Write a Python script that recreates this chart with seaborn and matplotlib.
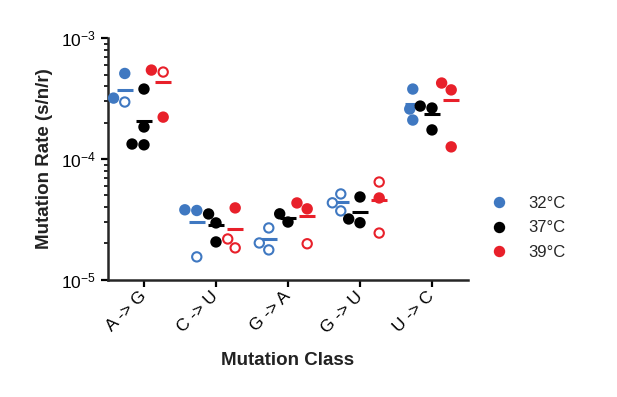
import numpy as np
import pandas as pd
import seaborn as sns
import matplotlib.pyplot as plt
from matplotlib.lines import Line2D

classes = ["A -> G", "C -> U", "G -> A", "G -> U", "U -> C"]
temps = ["32°C", "37°C", "39°C"]
colors = ["#3F78C1", "#000000", "#E8202A"]

# one entry per measured point
mut_class = (["A -> G"] * 10 + ["C -> U"] * 9 + ["G -> A"] * 8
             + ["G -> U"] * 9 + ["U -> C"] * 9)
temp = (["32°C"] * 3 + ["37°C"] * 4 + ["39°C"] * 3
        + ["32°C"] * 3 + ["37°C"] * 3 + ["39°C"] * 3
        + ["32°C"] * 3 + ["37°C"] * 2 + ["39°C"] * 3
        + ["32°C"] * 3 + ["37°C"] * 3 + ["39°C"] * 3
        + ["32°C"] * 3 + ["37°C"] * 3 + ["39°C"] * 3)
rate = [5.1e-4, 2.96e-4, 3.19e-4, 3.79e-4, 1.84e-4, 1.31e-4, 1.33e-4, 5.44e-4, 5.24e-4, 2.22e-4,
        3.8e-5, 3.75e-5, 1.55e-5, 3.51e-5, 2.96e-5, 2.06e-5, 3.94e-5, 2.18e-5, 1.84e-5,
        2.69e-5, 2.02e-5, 1.77e-5, 3.52e-5, 3.01e-5, 4.33e-5, 3.87e-5, 1.99e-5,
        5.14e-5, 4.34e-5, 3.72e-5, 4.85e-5, 2.97e-5, 3.19e-5, 6.45e-5, 4.76e-5, 2.44e-5,
        3.79e-4, 2.59e-4, 2.10e-4, 2.74e-4, 2.64e-4, 1.74e-4, 4.25e-4, 3.73e-4, 1.26e-4]
hollow = [0, 1, 0, 0, 0, 0, 0, 0, 1, 0,
          0, 0, 1, 0, 0, 0, 0, 1, 1,
          1, 1, 1, 0, 0, 0, 0, 1,
          1, 1, 1, 0, 0, 0, 1, 0, 1,
          0, 0, 0, 0, 0, 0, 0, 0, 0]

df = pd.DataFrame({"cls": mut_class, "temp": temp, "rate": rate, "hollow": hollow})
means = df.groupby(["cls", "temp"], sort=False)["rate"].mean().reset_index()

sns.set_style("ticks")
plt.rcParams["font.family"] = ["Liberation Sans", "DejaVu Sans"]
plt.rcParams["mathtext.fontset"] = "custom"
plt.rcParams["mathtext.rm"] = "Liberation Sans"
plt.rcParams["axes.linewidth"] = 1.8

fig, ax = plt.subplots(figsize=(6.17, 3.97), dpi=100)
fig.subplots_adjust(left=0.175, right=0.7585, top=0.904, bottom=0.295)
ax.set_yscale("log")

sns.swarmplot(data=df, x="cls", y="rate", hue="temp", order=classes, hue_order=temps,
              palette=colors, dodge=True, size=6.7, linewidth=1.5, ax=ax)

# open circles for the hollow points
hollow_of = {round(r, 12): h for r, h in zip(rate, hollow)}
for coll in ax.collections:
    offs = coll.get_offsets()
    if len(offs) == 0:
        continue
    fc = coll.get_facecolors()
    if len(fc) == 1:
        fc = np.repeat(fc, len(offs), axis=0)
    new_fc = fc.copy()
    for i, y in enumerate(np.asarray(offs)[:, 1]):
        if hollow_of.get(round(float(y), 12), 0):
            new_fc[i] = (1, 1, 1, 1)
    coll.set_facecolors(new_fc)
    coll.set_edgecolors(fc)

sns.pointplot(data=means, x="cls", y="rate", hue="temp", order=classes, hue_order=temps,
              palette=colors, dodge=0.533, markers="_", linestyles="none", errorbar=None,
              markersize=12, markeredgewidth=2.2, legend=False, ax=ax)

ax.set_xlim(-0.5, 4.5)
ax.set_ylim(1e-5, 1e-3)
sns.despine(ax=ax)
ax.tick_params(axis="both", which="major", length=5, width=1.6, labelsize=12.5, colors="black")
ax.tick_params(axis="x", which="major", pad=5)
ax.tick_params(axis="y", which="minor", length=3, width=1.4)
plt.setp(ax.get_xticklabels(), rotation=45, ha="right", va="center", rotation_mode="anchor")
ax.set_xlabel("Mutation Class", fontsize=13.5, fontweight="bold", color="#222222", labelpad=12)
ax.set_ylabel("Mutation Rate (s/n/r)", fontsize=13.5, fontweight="bold", color="#222222", labelpad=6)

leg = ax.legend(loc="center left", bbox_to_anchor=(1.02, 0.215), frameon=False,
                fontsize=12, handlelength=1, handletextpad=1.3, labelspacing=0.55)
for h in leg.legend_handles:
    if isinstance(h, Line2D):
        h.set_markeredgecolor(h.get_markerfacecolor())
    else:
        h.set_edgecolor(h.get_facecolor())

fig.savefig("out.png", dpi=100)
